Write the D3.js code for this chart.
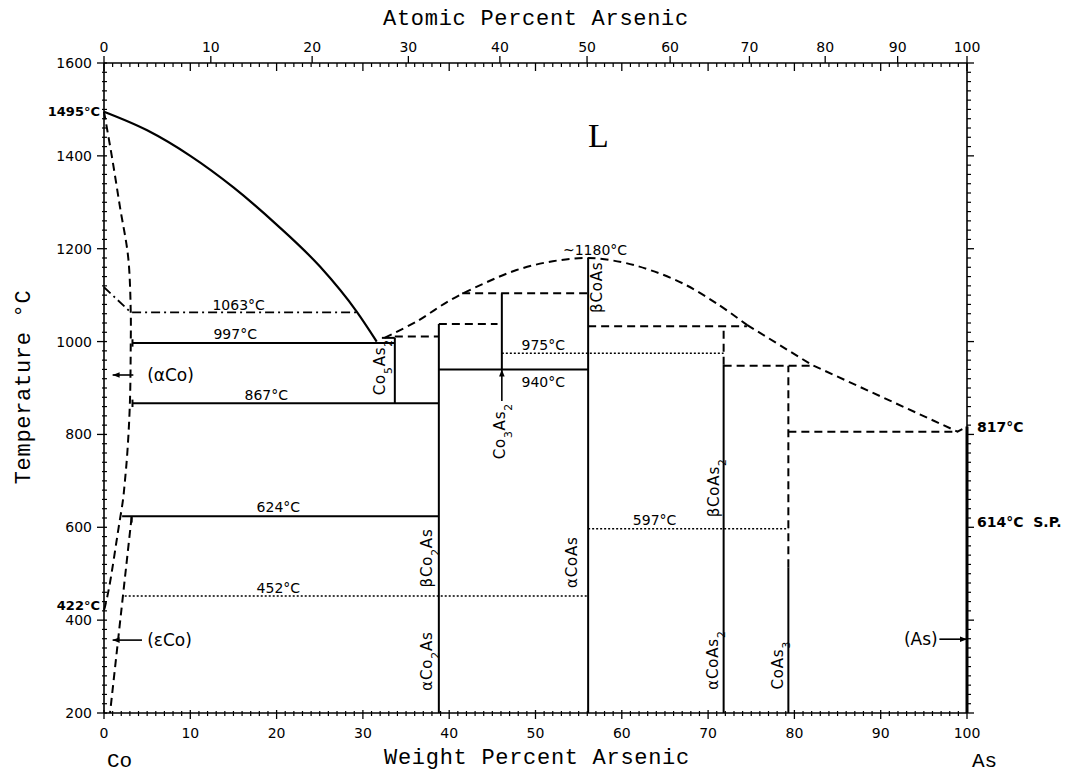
<!DOCTYPE html>
<html><head><meta charset="utf-8">
<script src="https://cdn.jsdelivr.net/npm/d3@7"></script>
<style>body{margin:0;background:#fff} svg{display:block}</style>
</head><body>
<svg id="c" width="1066" height="775"></svg>
<script>
// ---- axis values ----
const wtTicks = d3.range(0, 101, 10);
const atTicks = d3.range(0, 101, 10);
const tempTicks = d3.range(200, 1601, 200);
const massAs = 74.922, massCo = 58.933;

// ---- phase boundaries (wt% As, °C) ----
const coLiquidus = [[0,1495],[5,1455],[10,1400],[15,1332],[20,1252],[25,1162],[29.3,1064],[31.6,1000]];
const alphaCoBoundary = [[0,1495],[0.9,1400],[1.85,1290],[2.8,1182],[3.1,1063],[3.1,997],[3.0,867],[2.7,760],[2.4,695],[2.2,659],[1.7,600],[0.6,471],[0.1,428],[0,422]];
const epsCoBoundary = [[3.2,622],[0.7,200]];
const coAsDome = [[32.5,1008],[36.2,1043],[40.1,1089],[44,1125],[47.8,1154],[52,1173],[56.1,1180],[60,1171],[63.3,1154],[67.1,1125],[71,1082],[74.5,1036]];
const asLiquidus = [[74.5,1036],[82,950],[98.9,806],[100,817]];
const dashDotLine = [[0,1117],[3.1,1063],[29.3,1063]];

// segments [wt1, T1, wt2, T2]
const solidSegs = [
  [3.3,997,33.7,997],[3.3,867,38.8,867],[2.1,624,38.8,624],[38.8,940,56.1,940],
  [33.7,867,33.7,1008],[32.2,1008,33.7,1008],
  [38.8,200,38.8,1038],[46.1,940,46.1,1104],[56.1,200,56.1,1180],
  [71.8,200,71.8,950],[79.3,200,79.3,514],
  [3.3,989,3.3,1005],[3.3,859,3.3,875],[3.2,622,3.2,610]
];
const thickSegs = [[100,200,100,817]];
const dashedSegs = [
  [33.7,1011,38.8,1011],[38.8,1038,45.6,1038],[41.5,1104,56.1,1104],[56.1,1033,74.5,1033],
  [71.8,950,71.8,1033],[71.8,948,82,948],[79.3,514,79.3,948],[79.3,806,98.9,806]
];
const dottedSegs = [[46.1,975,71.8,975],[2.4,452,56.1,452],[56.1,597,79.3,597]];

// ---- labels ----
const tempLabels = [
  {t:"1063°C", w:15.6, T:1068}, {t:"997°C", w:15.2, T:1005}, {t:"867°C", w:18.8, T:874},
  {t:"624°C", w:20.2, T:633}, {t:"452°C", w:20.2, T:458}, {t:"~1180°C", w:56.9, T:1186},
  {t:"975°C", w:50.9, T:982}, {t:"940°C", w:50.9, T:902}, {t:"597°C", w:63.8, T:605}
];
const leftLabels = [{t:"1495°C", T:1495, dy:4}, {t:"422°C", T:422, dy:0}];
const rightLabels = [{t:"817°C", T:817}, {t:"614°C  S.P.", T:611}];
const phaseLabels = [
  {t:"Co_5As_2", w:31.9, T:945}, {t:"Co_3As_2", w:45.8, T:807}, {t:"βCoAs", w:57.1, T:1117},
  {t:"βCo_2As", w:37.4, T:534}, {t:"αCo_2As", w:37.4, T:312}, {t:"αCoAs", w:54.2, T:525},
  {t:"βCoAs_2", w:70.6, T:685}, {t:"αCoAs_2", w:70.5, T:314}, {t:"CoAs_3", w:78.0, T:303}
];
const regionLabels = [
  {t:"(αCo)", w:5.0, T:928, a1:3.4, a2:1.0},
  {t:"(εCo)", w:5.0, T:357, a1:4.4, a2:1.0}
];
const asLabel = {t:"(As)", w:96.6, T:359, a1:96.8, a2:100};
const co3As2Arrow = [46.1, 872, 46.1, 940];

// ---- scales ----
const svg = d3.select("#c");
const x = d3.scaleLinear([0, 100], [104, 967]);
const y = d3.scaleLinear([200, 1600], [713, 63]);
const at2wt = a => a * massAs / (a * massAs + (100 - a) * massCo) * 100;

const defs = svg.append("defs");
defs.append("marker").attr("id","arr").attr("viewBox","0 0 10 10").attr("refX",10).attr("refY",5)
  .attr("markerWidth",9).attr("markerHeight",7).attr("markerUnits","userSpaceOnUse").attr("orient","auto")
  .append("path").attr("d","M0,1 L10,5 L0,9 Z").attr("fill","#000");

const tickFont = "DejaVu Sans, sans-serif";
const monoFont = "Liberation Mono, monospace";

// ---- axes ----
const gAx = svg.append("g").attr("fill","none").attr("stroke","#000");
gAx.append("line").attr("x1",x(0)).attr("x2",x(100)).attr("y1",y(200)).attr("y2",y(200)).attr("stroke-width",1.6);
gAx.append("line").attr("x1",x(0)).attr("x2",x(100)).attr("y1",y(1600)).attr("y2",y(1600)).attr("stroke-width",1.6);
gAx.append("line").attr("x1",x(0)).attr("x2",x(0)).attr("y1",y(200)).attr("y2",y(1600)).attr("stroke-width",1.6);
gAx.append("line").attr("x1",x(100)).attr("x2",x(100)).attr("y1",y(200)).attr("y2",y(1600)).attr("stroke-width",1.6);

const wtMinor = d3.range(1, 100).filter(v => v % 10 !== 0);
wtMinor.forEach(v => {
  gAx.append("line").attr("x1",x(v)).attr("x2",x(v)).attr("y1",y(200)-2).attr("y2",y(200)+3).attr("stroke-width",1.2);
  gAx.append("line").attr("x1",x(v)).attr("x2",x(v)).attr("y1",y(1600)).attr("y2",y(1600)+4).attr("stroke-width",1.2);
});
wtTicks.forEach(v => {
  gAx.append("line").attr("x1",x(v)).attr("x2",x(v)).attr("y1",y(200)-3).attr("y2",y(200)+6).attr("stroke-width",1.3);
  gAx.append("line").attr("x1",x(v)).attr("x2",x(v)).attr("y1",y(1600)).attr("y2",y(1600)+8).attr("stroke-width",1.3);
});
atTicks.forEach(a => {
  gAx.append("line").attr("x1",x(at2wt(a))).attr("x2",x(at2wt(a))).attr("y1",y(1600)).attr("y2",y(1600)-7).attr("stroke-width",1.3);
});
const tMinor = d3.range(220, 1600, 20).filter(v => v % 200 !== 0);
tMinor.forEach(v => {
  gAx.append("line").attr("x1",x(0)-2).attr("x2",x(0)+3).attr("y1",y(v)).attr("y2",y(v)).attr("stroke-width",1.2);
  gAx.append("line").attr("x1",x(100)).attr("x2",x(100)+4).attr("y1",y(v)).attr("y2",y(v)).attr("stroke-width",1.2);
});
tempTicks.forEach(v => {
  gAx.append("line").attr("x1",x(0)-7).attr("x2",x(0)+3).attr("y1",y(v)).attr("y2",y(v)).attr("stroke-width",1.3);
  gAx.append("line").attr("x1",x(100)).attr("x2",x(100)+7).attr("y1",y(v)).attr("y2",y(v)).attr("stroke-width",1.3);
});

const gTxt = svg.append("g").attr("fill","#000");
wtTicks.forEach(v => gTxt.append("text").attr("x",x(v)).attr("y",738).attr("text-anchor","middle")
  .attr("font-family",tickFont).attr("font-size",14).text(v));
atTicks.forEach(a => gTxt.append("text").attr("x",x(at2wt(a))).attr("y",52).attr("text-anchor","middle")
  .attr("font-family",tickFont).attr("font-size",14).text(a));
tempTicks.forEach(v => gTxt.append("text").attr("x",x(0)-12).attr("y",y(v)).attr("dy","0.36em").attr("text-anchor","end")
  .attr("font-family",tickFont).attr("font-size",14).text(v));

gTxt.append("text").attr("x",536).attr("y",25).attr("text-anchor","middle").attr("font-family",monoFont)
  .attr("font-size",22).attr("letter-spacing",0.7).text("Atomic Percent Arsenic");
gTxt.append("text").attr("x",537).attr("y",764).attr("text-anchor","middle").attr("font-family",monoFont)
  .attr("font-size",22).attr("letter-spacing",0.7).text("Weight Percent Arsenic");
gTxt.append("text").attr("transform","translate(30,387) rotate(-90)").attr("text-anchor","middle")
  .attr("font-family",monoFont).attr("font-size",22).attr("letter-spacing",0.7).text("Temperature °C");
gTxt.append("text").attr("x",x(0)+3).attr("y",767).attr("font-family",monoFont).attr("font-size",21).text("Co");
gTxt.append("text").attr("x",x(100)+5).attr("y",767).attr("font-family",monoFont).attr("font-size",21).text("As");
gTxt.append("text").attr("x",588).attr("y",147).attr("font-family","Liberation Serif, serif").attr("font-size",34).text("L");

// ---- phase lines ----
const line = d3.line().x(d => x(d[0])).y(d => y(d[1]));
const gL = svg.append("g").attr("fill","none").attr("stroke","#000");
gL.append("path").attr("d", line.curve(d3.curveMonotoneX)(coLiquidus)).attr("stroke-width",2.2);
gL.append("path").attr("d", line.curve(d3.curveCatmullRom)(alphaCoBoundary)).attr("stroke-width",2).attr("stroke-dasharray","8,5");
gL.append("path").attr("d", line.curve(d3.curveLinear)(epsCoBoundary)).attr("stroke-width",2).attr("stroke-dasharray","8,5");
gL.append("path").attr("d", line.curve(d3.curveCatmullRom)(coAsDome)).attr("stroke-width",2).attr("stroke-dasharray","8,5");
gL.append("path").attr("d", line.curve(d3.curveLinear)(asLiquidus)).attr("stroke-width",2).attr("stroke-dasharray","8,5");
gL.append("path").attr("d", line.curve(d3.curveLinear)(dashDotLine)).attr("stroke-width",1.8).attr("stroke-dasharray","9,4,2,4");

const seg = (arr, w, dash) => arr.forEach(s => {
  const l = gL.append("line").attr("x1",x(s[0])).attr("y1",y(s[1])).attr("x2",x(s[2])).attr("y2",y(s[3])).attr("stroke-width",w);
  if (dash) l.attr("stroke-dasharray",dash);
});
seg(solidSegs, 2, null);
seg(thickSegs, 3, null);
seg(dashedSegs, 2, "8,5");
seg(dottedSegs, 1.6, "2,2");

// ---- text labels ----
function richText(g, str, size) {
  const parts = str.split(/(_.)/).filter(p => p.length);
  parts.forEach(p => {
    if (p[0] === "_") g.append("tspan").attr("baseline-shift","sub").attr("font-size",size*0.72).text(p[1]);
    else g.append("tspan").text(p);
  });
}
tempLabels.forEach(d => gTxt.append("text").attr("x",x(d.w)).attr("y",y(d.T)).attr("text-anchor","middle")
  .attr("font-family",tickFont).attr("font-size",14).text(d.t));
leftLabels.forEach(d => gTxt.append("text").attr("x",x(0)-4).attr("y",y(d.T)+d.dy).attr("text-anchor","end")
  .attr("font-family",tickFont).attr("font-size",13).attr("font-weight","bold").text(d.t));
rightLabels.forEach(d => gTxt.append("text").attr("x",x(100)+10).attr("y",y(d.T)).attr("dy","0.36em")
  .attr("font-family",tickFont).attr("font-size",14).attr("font-weight","bold").style("white-space","pre").text(d.t));
phaseLabels.forEach(d => {
  const t = gTxt.append("text").attr("transform",`translate(${x(d.w)},${y(d.T)}) rotate(-90)`)
    .attr("text-anchor","middle").attr("dy","0.36em").attr("font-family",tickFont).attr("font-size",15).attr("letter-spacing",0.8);
  richText(t, d.t, 15);
});
regionLabels.forEach(d => {
  gTxt.append("text").attr("x",x(d.w)).attr("y",y(d.T)).attr("dy","0.36em").attr("font-family",tickFont)
    .attr("font-size",17).text(d.t);
  gL.append("line").attr("x1",x(d.a1)).attr("x2",x(d.a2)).attr("y1",y(d.T)).attr("y2",y(d.T))
    .attr("stroke-width",1.6).attr("marker-end","url(#arr)");
});
gTxt.append("text").attr("x",x(asLabel.w)).attr("y",y(asLabel.T)).attr("dy","0.36em").attr("text-anchor","end")
  .attr("font-family",tickFont).attr("font-size",17).text(asLabel.t);
gL.append("line").attr("x1",x(asLabel.a1)).attr("x2",x(asLabel.a2)).attr("y1",y(asLabel.T)).attr("y2",y(asLabel.T))
  .attr("stroke-width",1.6).attr("marker-end","url(#arr)");
gL.append("line").attr("x1",x(co3As2Arrow[0])).attr("y1",y(co3As2Arrow[1])).attr("x2",x(co3As2Arrow[2])).attr("y2",y(co3As2Arrow[3]))
  .attr("stroke-width",1.6).attr("marker-end","url(#arr)");
</script>
</body></html>
